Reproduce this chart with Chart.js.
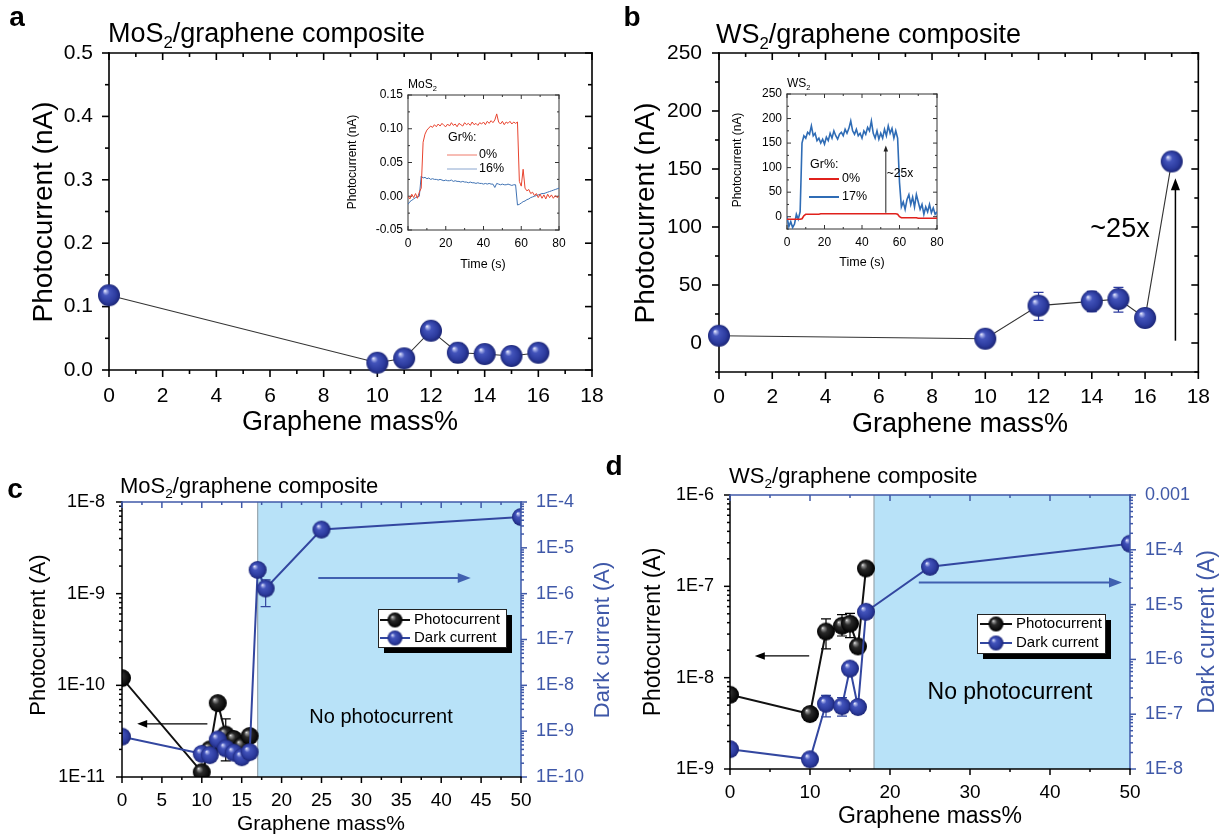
<!DOCTYPE html>
<html>
<head>
<meta charset="utf-8">
<script src="https://cdn.jsdelivr.net/npm/chart.js@4.4.1/dist/chart.umd.min.js"></script>
<style>
  body { margin: 0; background: #fff; }
  #wrap { position: relative; width: 1223px; height: 837px; background: #fff; overflow: hidden; }
  #wrap canvas { position: absolute; left: 0; top: 0; }
</style>
</head>
<body>
<div id="wrap">
  <canvas id="ca" width="1223" height="837"></canvas>
  <canvas id="cb" width="1223" height="837"></canvas>
  <canvas id="cc" width="1223" height="837"></canvas>
  <canvas id="cd" width="1223" height="837"></canvas>
  <canvas id="cia" width="1223" height="837"></canvas>
  <canvas id="cib" width="1223" height="837"></canvas>
</div>
<script>
// ---------- data ----------
// a : MoS2/graphene, photocurrent in nA
const massA  = [0, 10, 11, 12, 13, 14, 15, 16];
const photoA = [0.118, 0.0115, 0.0184, 0.062, 0.0273, 0.0252, 0.0221, 0.0273];
const errLoA = [null, null, null, null, 0.012, null, null, null];
const errHiA = [null, null, null, null, 0.042, null, null, null];

// b : WS2/graphene, photocurrent in nA
const massB  = [0, 10, 12, 14, 15, 16, 17];
const photoB = [6.3, 3.7, 32.2, 35.9, 37.9, 21.6, 156.5];
const errLoB = [null, null, 19.5, 27, 26.7, 19, null];
const errHiB = [null, null, 43.6, 44.5, 48, 24, null];

// c : MoS2/graphene, log scales (A)
const massC      = [0, 10, 11, 12, 13, 14, 15, 16];
const photoC     = [1.2e-10, 1.13e-11, 2.0e-11, 6.4e-11, 2.9e-11, 2.6e-11, 2.2e-11, 2.8e-11];
const errLoC     = [null, null, null, null, 1.5e-11, null, null, null];
const errHiC     = [null, null, null, null, 4.3e-11, null, null, null];
const massDarkC  = [0, 10, 11, 12, 13, 14, 15, 16, 17, 18, 25, 50];
const darkC      = [7.6e-10, 3.2e-10, 3.0e-10, 6.6e-10, 4.2e-10, 3.4e-10, 2.7e-10, 3.5e-10, 3.3e-6, 1.3e-6, 2.5e-5, 4.7e-5];
const errLoDarkC = [null, null, null, null, null, null, null, null, null, 5.2e-7, null, null];
const errHiDarkC = [null, null, null, null, null, null, null, null, null, 2.0e-6, null, null];

// d : WS2/graphene, log scales (A)
const massD      = [0, 10, 12, 14, 15, 16, 17];
const photoD     = [6.5e-9, 4.0e-9, 3.2e-8, 3.7e-8, 3.9e-8, 2.2e-8, 1.57e-7];
const errLoD     = [null, null, 2.07e-8, 2.86e-8, 2.75e-8, null, null];
const errHiD     = [null, null, 4.4e-8, 4.9e-8, 5.07e-8, null, null];
const massDarkD  = [0, 10, 12, 14, 15, 16, 17, 25, 50];
const darkD      = [2.3e-8, 1.5e-8, 1.55e-7, 1.4e-7, 6.8e-7, 1.35e-7, 7.4e-6, 4.9e-5, 1.29e-4];
const errLoDarkD = [null, null, 8.9e-8, 9.2e-8, null, null, null, null, null];
const errHiDarkD = [null, null, 2.2e-7, 2.0e-7, null, null, null, null, null];

// insets : photocurrent vs time (s)
const timeIn = [0,1,2,3,4,5,6,7,8,9,10,11,12,13,14,15,16,17,18,19,20,21,22,23,24,25,26,27,28,29,
  30,31,32,33,34,35,36,37,38,39,40,41,42,43,44,45,46,47,48,49,50,51,52,53,54,55,56,57,58,59,
  60,61,62,63,64,65,66,67,68,69,70,71,72,73,74,75,76,77,78,79,80];
const mos0 = [0.000,-0.004,0.003,-0.002,0.004,-0.003,0.006,0.012,0.080,0.092,
  0.098,0.101,0.104,0.102,0.106,0.103,0.107,0.104,0.108,0.105,
  0.103,0.107,0.104,0.109,0.105,0.107,0.103,0.108,0.106,0.104,
  0.109,0.106,0.108,0.105,0.110,0.106,0.108,0.105,0.109,0.107,
  0.110,0.106,0.111,0.108,0.112,0.109,0.113,0.122,0.110,0.107,
  0.111,0.106,0.110,0.108,0.111,0.107,0.110,0.108,0.110,0.022,
  0.015,0.040,0.012,0.008,0.010,0.004,0.006,0.001,0.004,-0.002,
  0.003,-0.003,0.002,-0.004,0.003,-0.002,0.002,-0.003,0.001,-0.002,0.000];
const mos16 = [-0.012,-0.008,-0.006,-0.004,-0.002,-0.001,0.000,0.030,0.027,0.028,
  0.026,0.027,0.025,0.026,0.025,0.025,0.024,0.025,0.024,0.023,
  0.024,0.023,0.023,0.024,0.022,0.023,0.022,0.022,0.021,0.022,
  0.021,0.021,0.020,0.021,0.020,0.020,0.019,0.020,0.019,0.019,
  0.018,0.019,0.018,0.019,0.018,0.018,0.013,0.019,0.018,0.017,
  0.018,0.017,0.017,0.018,0.017,0.016,0.017,0.017,-0.013,-0.012,
  -0.010,-0.008,-0.007,-0.005,-0.004,-0.002,-0.001,0.000,0.001,0.002,
  0.003,0.004,0.004,0.005,0.006,0.007,0.008,0.009,0.010,0.011,0.012];
const ws0 = [-5,-5,-5,-5,-5,-5,-5,-5,-4,2,
  5,5,5,5,5,5,5,5,6,6,
  6,6,6,6,6,6,6,6,6,6,
  6,6,6,6,6,6,6,6,6,6,
  6,6,6,6,6,6,6,6,6,6,
  6,6,6,6,6,6,6,6,6,5,
  0,-2,-2,-2,-2,-2,-2,-2,-2,-2,
  -3,-3,-3,-3,-3,-3,-3,-3,-3,-3,-3];
const ws17 = [0,-20,-10,-22,-15,5,-5,10,150,165,
  160,172,168,185,165,170,155,160,150,158,
  148,162,155,170,160,175,165,158,168,172,
  165,178,170,180,195,175,168,178,165,170,
  160,175,168,182,175,195,170,160,175,158,
  170,160,178,165,185,170,180,160,175,160,
  70,20,30,15,35,45,25,40,20,45,
  30,15,25,5,20,10,25,8,18,5,10];

// tick positions
const ticksXA = [0, 2, 4, 6, 8, 10, 12, 14, 16, 18];
const minorXA = [1, 3, 5, 7, 9, 11, 13, 15, 17];
const ticksYA = [0, 0.1, 0.2, 0.3, 0.4, 0.5];
const minorYA = [0.05, 0.15, 0.25, 0.35, 0.45];
const ticksYB = [0, 50, 100, 150, 200, 250];
const minorYB = [-25, 25, 75, 125, 175, 225];
const ticksXC = [0, 5, 10, 15, 20, 25, 30, 35, 40, 45, 50];
const minorXC = [2.5, 7.5, 12.5, 17.5, 22.5, 27.5, 32.5, 37.5, 42.5, 47.5];
const decYC  = [1e-11, 1e-10, 1e-9, 1e-8];
const decY2C = [1e-10, 1e-9, 1e-8, 1e-7, 1e-6, 1e-5, 1e-4];
const ticksXD = [0, 10, 20, 30, 40, 50];
const minorXD = [5, 15, 25, 35, 45];
const decYD  = [1e-9, 1e-8, 1e-7, 1e-6];
const decY2D = [1e-8, 1e-7, 1e-6, 1e-5, 1e-4, 1e-3];
const ticksTin = [0, 20, 40, 60, 80];
const minorTin = [10, 30, 50, 70];
const ticksYia = [-0.05, 0, 0.05, 0.1, 0.15];
const minorYia = [-0.025, 0.025, 0.075, 0.125];
const ticksYib = [0, 50, 100, 150, 200, 250];
const minorYib = [-25, 25, 75, 125, 175, 225];

// ---------- look ----------
const W = 1223, H = 837;
const FONT = '"Liberation Sans", Arial, Helvetica, sans-serif';
const AXBLUE = '#3f58a8';
const LINEBLUE = '#3347a0';
const SHADE = '#b8e2f8';
Chart.defaults.font.family = FONT;

// plot areas in page pixels
const areaA  = {l: 109, t: 53,  r: 592, b: 370};
const areaB  = {l: 719, t: 53,  r: 1200, b: 372};
const areaC  = {l: 122, t: 502, r: 521, b: 777};
const areaD  = {l: 730, t: 495, r: 1130, b: 769};
const areaIA = {l: 408, t: 95,  r: 559, b: 230};
const areaIB = {l: 787, t: 94,  r: 937, b: 229};

function sphere(r, kind) {
  const c = document.createElement('canvas');
  const s = Math.ceil(r * 2) + 2;
  c.width = c.height = s;
  const g = c.getContext('2d');
  const cx = s / 2, cy = s / 2;
  const grd = g.createRadialGradient(cx - r * 0.38, cy - r * 0.42, 0, cx, cy, r);
  if (kind === 'black') {
    grd.addColorStop(0, '#ffffff');
    grd.addColorStop(0.12, '#9a9a9a');
    grd.addColorStop(0.4, '#2a2a2a');
    grd.addColorStop(1, '#000000');
  } else {
    grd.addColorStop(0, '#ffffff');
    grd.addColorStop(0.1, '#b4bcef');
    grd.addColorStop(0.32, '#4354bb');
    grd.addColorStop(0.75, '#2c3b9e');
    grd.addColorStop(1, '#1c2676');
  }
  g.fillStyle = grd;
  g.beginPath();
  g.arc(cx, cy, r, 0, Math.PI * 2);
  g.fill();
  return c;
}
const ballBig = sphere(11, 'blue');
const ballBlue = sphere(9, 'blue');
const ballBlack = sphere(9, 'black');
const legBlue = sphere(7.5, 'blue');
const legBlack = sphere(7.5, 'black');

function pts(xs, ys) { return xs.map((x, i) => ({x: x, y: ys[i]})); }

function logMinors(e0, e1) {
  const out = [];
  for (let e = e0; e < e1; e++) for (let m = 2; m <= 9; m++) out.push(m * Math.pow(10, e));
  return out;
}

function sci(v) {
  const e = Math.round(Math.log10(v));
  if (e === -3) return '0.001';
  return '1E' + e;
}

function setTicks(arr) { return s => { s.ticks = arr.map(v => ({value: v})); }; }

// frame with inward/outward ticks drawn by hand
function framePlugin(id, sides, opt) {
  const hook = opt.onTop ? 'afterDatasetsDraw' : 'beforeDatasetsDraw';
  const p = {id: id};
  p[hook] = function(chart) {
    const ctx = chart.ctx, a = chart.chartArea;
    ctx.save();
    ctx.lineWidth = opt.lw;
    sides.forEach(sd => {
      const sc = chart.scales[sd.scale];
      ctx.strokeStyle = sd.color;
      ctx.lineCap = 'square';
      ctx.beginPath();
      if (sd.side === 'left')   { ctx.moveTo(a.left, a.top);  ctx.lineTo(a.left, a.bottom); }
      if (sd.side === 'right')  { ctx.moveTo(a.right, a.top); ctx.lineTo(a.right, a.bottom); }
      if (sd.side === 'top')    { ctx.moveTo(a.left, a.top);  ctx.lineTo(a.right, a.top); }
      if (sd.side === 'bottom') { ctx.moveTo(a.left, a.bottom); ctx.lineTo(a.right, a.bottom); }
      ctx.stroke();
      ctx.lineCap = 'butt';
      const dirSign = {left: 1, right: -1, top: 1, bottom: -1}[sd.side] * (sd.dir === 'out' ? -1 : 1);
      const mark = (v, len) => {
        const q = sc.getPixelForValue(v);
        ctx.beginPath();
        if (sd.side === 'left' || sd.side === 'right') {
          const x0 = sd.side === 'left' ? a.left : a.right;
          ctx.moveTo(x0, q); ctx.lineTo(x0 + dirSign * len, q);
        } else {
          const y0 = sd.side === 'top' ? a.top : a.bottom;
          ctx.moveTo(q, y0); ctx.lineTo(q, y0 + dirSign * len);
        }
        ctx.stroke();
      };
      sd.major.forEach(v => mark(v, opt.major));
      sd.minor.forEach(v => mark(v, opt.minor));
    });
    ctx.restore();
  };
  return p;
}

const errPlugin = {
  id: 'errbars',
  beforeDatasetsDraw(chart) {
    const ctx = chart.ctx;
    chart.data.datasets.forEach((ds, di) => {
      if (!ds.errLo) return;
      const meta = chart.getDatasetMeta(di);
      const ys = chart.scales[meta.yAxisID];
      ctx.save();
      ctx.strokeStyle = ds.errColor || '#000';
      ctx.lineWidth = 1.2;
      ds.errLo.forEach((lo, i) => {
        if (lo == null) return;
        const x = meta.data[i].x;
        const y1 = ys.getPixelForValue(lo), y2 = ys.getPixelForValue(ds.errHi[i]);
        ctx.beginPath();
        ctx.moveTo(x, y1); ctx.lineTo(x, y2);
        ctx.moveTo(x - 5, y1); ctx.lineTo(x + 5, y1);
        ctx.moveTo(x - 5, y2); ctx.lineTo(x + 5, y2);
        ctx.stroke();
      });
      ctx.restore();
    });
  }
};

function shadePlugin(fromX) {
  return {
    id: 'shade',
    beforeDatasetsDraw(chart) {
      const ctx = chart.ctx, a = chart.chartArea;
      const x0 = chart.scales.x.getPixelForValue(fromX);
      ctx.save();
      ctx.fillStyle = SHADE;
      ctx.fillRect(x0, a.top, a.right - x0, a.bottom - a.top);
      ctx.strokeStyle = '#98a6ae';
      ctx.lineWidth = 1.2;
      ctx.beginPath(); ctx.moveTo(x0, a.top); ctx.lineTo(x0, a.bottom); ctx.stroke();
      ctx.restore();
    }
  };
}

// ---------- text helpers ----------
function txt(ctx, s, x, y, size, opt) {
  opt = opt || {};
  ctx.save();
  ctx.font = (opt.bold ? 'bold ' : '') + size + 'px ' + FONT;
  ctx.fillStyle = opt.color || '#000';
  ctx.textAlign = opt.align || 'center';
  ctx.textBaseline = 'middle';
  if (opt.rot) { ctx.translate(x, y); ctx.rotate(-Math.PI / 2); ctx.fillText(s, 0, 0); }
  else ctx.fillText(s, x, y);
  ctx.restore();
}
function subTxt(ctx, pre, sub, post, x, y, size) {
  ctx.save();
  ctx.fillStyle = '#000';
  ctx.textAlign = 'left';
  ctx.textBaseline = 'alphabetic';
  const base = y + size * 0.36;
  ctx.font = size + 'px ' + FONT;
  ctx.fillText(pre, x, base);
  let cx = x + ctx.measureText(pre).width;
  ctx.font = (size * 0.62) + 'px ' + FONT;
  ctx.fillText(sub, cx, base + size * 0.22);
  cx += ctx.measureText(sub).width;
  ctx.font = size + 'px ' + FONT;
  ctx.fillText(post, cx, base);
  ctx.restore();
}
function arrow(ctx, x1, y1, x2, y2, color, w, head) {
  const ang = Math.atan2(y2 - y1, x2 - x1);
  const c = Math.cos(ang), s = Math.sin(ang);
  ctx.save();
  ctx.strokeStyle = color; ctx.fillStyle = color; ctx.lineWidth = w;
  ctx.beginPath();
  ctx.moveTo(x1, y1); ctx.lineTo(x2 - head * 0.8 * c, y2 - head * 0.8 * s);
  ctx.stroke();
  ctx.beginPath();
  ctx.moveTo(x2, y2);
  ctx.lineTo(x2 - head * c + head * 0.38 * s, y2 - head * s - head * 0.38 * c);
  ctx.lineTo(x2 - head * c - head * 0.38 * s, y2 - head * s + head * 0.38 * c);
  ctx.closePath(); ctx.fill();
  ctx.restore();
}
function arrowData(chart, yId, from, to, color, w, head) {
  const xs = chart.scales.x, ys = chart.scales[yId];
  arrow(chart.ctx, xs.getPixelForValue(from[0]), ys.getPixelForValue(from[1]),
        xs.getPixelForValue(to[0]), ys.getPixelForValue(to[1]), color, w, head);
}
function legendBox(ctx, box, rows) {
  const w = box[2] - box[0], h = box[3] - box[1];
  ctx.save();
  ctx.fillStyle = '#000';
  ctx.fillRect(box[0] + 6, box[1] + 6, w, h);
  ctx.fillStyle = '#fff';
  ctx.fillRect(box[0], box[1], w, h);
  ctx.strokeStyle = '#222'; ctx.lineWidth = 1;
  ctx.strokeRect(box[0] + 0.5, box[1] + 0.5, w, h);
  rows.forEach(r => {
    ctx.strokeStyle = r.color; ctx.lineWidth = 2;
    ctx.beginPath(); ctx.moveTo(r.x1, r.y); ctx.lineTo(r.x2, r.y); ctx.stroke();
    ctx.drawImage(r.ball, r.bx - r.ball.width / 2, r.y - r.ball.height / 2);
    txt(ctx, r.label, r.tx, r.y, 15, {align: 'left'});
  });
  ctx.restore();
}

// ---------- shared option pieces ----------
function baseOptions(area, hasRight) {
  return {
    responsive: false, animation: false, devicePixelRatio: 1, events: [],
    layout: {padding: {left: 0, top: area.t, right: hasRight ? 0 : W - area.r, bottom: 0}},
    plugins: {legend: {display: false}, tooltip: {enabled: false}, title: {display: false}}
  };
}
function axisX(area, min, max, ticks, size, pad, type) {
  return {
    type: type || 'linear', min: min, max: max, position: 'bottom',
    grid: {display: false, drawTicks: false}, border: {display: false},
    afterBuildTicks: setTicks(ticks),
    afterFit: s => { s.height = H - area.b; },
    ticks: {font: {size: size}, color: '#000', padding: pad, autoSkip: false, maxRotation: 0}
  };
}
function axisY(area, min, max, ticks, size, pad, fmt, type, right, color) {
  return {
    type: type || 'linear', min: min, max: max, position: right ? 'right' : 'left',
    grid: {display: false, drawTicks: false}, border: {display: false},
    afterBuildTicks: setTicks(ticks),
    afterFit: s => { s.width = right ? W - area.r : area.l; },
    ticks: {font: {size: size}, color: color || '#000', padding: pad, autoSkip: false, callback: fmt}
  };
}

// ---------- panel a ----------
new Chart(document.getElementById('ca'), {
  type: 'line',
  data: {datasets: [{
    data: pts(massA, photoA), errLo: errLoA, errHi: errHiA, errColor: '#2c3b9e',
    borderColor: '#333', borderWidth: 1.1, pointStyle: ballBig, pointRadius: 11, tension: 0, clip: false
  }]},
  options: Object.assign(baseOptions(areaA, false), {
    scales: {
      x: axisX(areaA, 0, 18, ticksXA, 21, 14),
      y: axisY(areaA, 0, 0.5, ticksYA, 21, 16, v => v.toFixed(1))
    }
  }),
  plugins: [
    framePlugin('frameA', [
      {side: 'left', scale: 'y', color: '#000', dir: 'out', major: ticksYA, minor: minorYA},
      {side: 'right', scale: 'y', color: '#000', dir: 'in', major: ticksYA, minor: minorYA},
      {side: 'bottom', scale: 'x', color: '#000', dir: 'out', major: ticksXA, minor: minorXA},
      {side: 'top', scale: 'x', color: '#000', dir: 'in', major: ticksXA, minor: minorXA}
    ], {lw: 1.6, major: 7, minor: 4}),
    errPlugin,
    {id: 'decorA', afterDraw(chart) {
      const ctx = chart.ctx;
      txt(ctx, 'a', 17, 18, 28, {bold: true});
      subTxt(ctx, 'MoS', '2', '/graphene composite', 108, 32, 27);
      txt(ctx, 'Graphene mass%', 350, 423, 27);
      txt(ctx, 'Photocurrent (nA)', 44, 212, 28, {rot: true});
    }}
  ]
});

// ---------- panel b ----------
new Chart(document.getElementById('cb'), {
  type: 'line',
  data: {datasets: [{
    data: pts(massB, photoB), errLo: errLoB, errHi: errHiB, errColor: '#2c3b9e',
    borderColor: '#333', borderWidth: 1.1, pointStyle: ballBig, pointRadius: 11, tension: 0, clip: false
  }]},
  options: Object.assign(baseOptions(areaB, false), {
    scales: {
      x: axisX(areaB, 0, 18, ticksXA, 21, 13),
      y: axisY(areaB, -25, 250, ticksYB, 21, 17, v => String(v))
    }
  }),
  plugins: [
    framePlugin('frameB', [
      {side: 'left', scale: 'y', color: '#000', dir: 'out', major: ticksYB, minor: minorYB},
      {side: 'right', scale: 'y', color: '#000', dir: 'in', major: ticksYB, minor: minorYB},
      {side: 'bottom', scale: 'x', color: '#000', dir: 'out', major: ticksXA, minor: minorXA},
      {side: 'top', scale: 'x', color: '#000', dir: 'in', major: ticksXA, minor: minorXA}
    ], {lw: 1.6, major: 7, minor: 4}),
    errPlugin,
    {id: 'decorB', afterDraw(chart) {
      const ctx = chart.ctx;
      txt(ctx, 'b', 632, 18, 28, {bold: true});
      subTxt(ctx, 'WS', '2', '/graphene composite', 716, 33, 27);
      txt(ctx, 'Graphene mass%', 960, 425, 27);
      txt(ctx, 'Photocurrent (nA)', 646, 213, 28, {rot: true});
      arrowData(chart, 'y', [17.14, 2], [17.14, 142], '#000', 1.5, 12);
      txt(ctx, '~25x', 1120, 230, 27);
    }}
  ]
});

// ---------- panel c ----------
new Chart(document.getElementById('cc'), {
  type: 'line',
  data: {datasets: [
    {data: pts(massDarkC, darkC), yAxisID: 'y2', errLo: errLoDarkC, errHi: errHiDarkC, errColor: LINEBLUE,
     borderColor: LINEBLUE, borderWidth: 2, pointStyle: ballBlue, pointRadius: 9, tension: 0},
    {data: pts(massC, photoC), yAxisID: 'y', errLo: errLoC, errHi: errHiC, errColor: '#000',
     borderColor: '#111', borderWidth: 2, pointStyle: ballBlack, pointRadius: 9, tension: 0}
  ]},
  options: Object.assign(baseOptions(areaC, true), {
    scales: {
      x: axisX(areaC, 0, 50, ticksXC, 19, 12),
      y: axisY(areaC, 1e-11, 1e-8, decYC, 18, 17, sci, 'logarithmic'),
      y2: axisY(areaC, 1e-10, 1e-4, decY2C, 18, 15, sci, 'logarithmic', true, AXBLUE)
    }
  }),
  plugins: [
    shadePlugin(17),
    errPlugin,
    framePlugin('frameC', [
      {side: 'left', scale: 'y', color: '#000', dir: 'out', major: decYC, minor: logMinors(-11, -8)},
      {side: 'right', scale: 'y2', color: AXBLUE, dir: 'out', major: decY2C, minor: logMinors(-10, -4)},
      {side: 'bottom', scale: 'x', color: '#000', dir: 'out', major: ticksXC, minor: minorXC},
      {side: 'top', scale: 'x', color: AXBLUE, dir: 'in', major: ticksXC, minor: minorXC}
    ], {lw: 1.5, major: 6, minor: 3, onTop: true}),
    {id: 'decorC', afterDraw(chart) {
      const ctx = chart.ctx;
      txt(ctx, 'c', 15, 490, 28, {bold: true});
      subTxt(ctx, 'MoS', '2', '/graphene composite', 120, 485, 22);
      txt(ctx, 'Graphene mass%', 321, 824, 21);
      txt(ctx, 'Photocurrent (A)', 39, 635, 22, {rot: true});
      txt(ctx, 'Dark current (A)', 603, 640, 22, {rot: true, color: AXBLUE});
      txt(ctx, 'No photocurrent', 381, 717, 20);
      arrowData(chart, 'y', [10.7, 3.8e-11], [1.9, 3.8e-11], '#000', 1.2, 10);
      arrowData(chart, 'y', [24.6, 1.48e-9], [43.7, 1.48e-9], '#4060b0', 2, 13);
      legendBox(ctx, [378, 609, 506, 647], [
        {color: '#111', ball: legBlack, x1: 380, x2: 410, bx: 395, y: 620, tx: 414, label: 'Photocurrent'},
        {color: LINEBLUE, ball: legBlue, x1: 380, x2: 410, bx: 395, y: 638, tx: 414, label: 'Dark current'}
      ]);
    }}
  ]
});

// ---------- panel d ----------
new Chart(document.getElementById('cd'), {
  type: 'line',
  data: {datasets: [
    {data: pts(massDarkD, darkD), yAxisID: 'y2', errLo: errLoDarkD, errHi: errHiDarkD, errColor: LINEBLUE,
     borderColor: LINEBLUE, borderWidth: 2, pointStyle: ballBlue, pointRadius: 9, tension: 0},
    {data: pts(massD, photoD), yAxisID: 'y', errLo: errLoD, errHi: errHiD, errColor: '#000',
     borderColor: '#111', borderWidth: 2, pointStyle: ballBlack, pointRadius: 9, tension: 0}
  ]},
  options: Object.assign(baseOptions(areaD, true), {
    scales: {
      x: axisX(areaD, 0, 50, ticksXD, 19, 12),
      y: axisY(areaD, 1e-9, 1e-6, decYD, 18, 16, sci, 'logarithmic'),
      y2: axisY(areaD, 1e-8, 1e-3, decY2D, 18, 15, sci, 'logarithmic', true, AXBLUE)
    }
  }),
  plugins: [
    shadePlugin(18),
    errPlugin,
    framePlugin('frameD', [
      {side: 'left', scale: 'y', color: '#000', dir: 'out', major: decYD, minor: logMinors(-9, -6)},
      {side: 'right', scale: 'y2', color: AXBLUE, dir: 'out', major: decY2D, minor: logMinors(-8, -3)},
      {side: 'bottom', scale: 'x', color: '#000', dir: 'out', major: ticksXD, minor: minorXD},
      {side: 'top', scale: 'x', color: AXBLUE, dir: 'in', major: ticksXD, minor: minorXD}
    ], {lw: 1.5, major: 6, minor: 3, onTop: true}),
    {id: 'decorD', afterDraw(chart) {
      const ctx = chart.ctx;
      txt(ctx, 'd', 614, 467, 28, {bold: true});
      subTxt(ctx, 'WS', '2', '/graphene composite', 729, 475, 22);
      txt(ctx, 'Graphene mass%', 930, 817, 23);
      txt(ctx, 'Photocurrent (A)', 654, 632, 23, {rot: true});
      txt(ctx, 'Dark current (A)', 1208, 632, 23, {rot: true, color: AXBLUE});
      txt(ctx, 'No photocurrent', 1010, 693, 23);
      arrowData(chart, 'y', [9.9, 1.73e-8], [3.1, 1.73e-8], '#000', 1.2, 10);
      arrowData(chart, 'y', [23.6, 1.1e-7], [49, 1.1e-7], '#4060b0', 2, 13);
      legendBox(ctx, [977, 614, 1105, 653], [
        {color: '#111', ball: legBlack, x1: 980, x2: 1012, bx: 996, y: 624, tx: 1016, label: 'Photocurrent'},
        {color: LINEBLUE, ball: legBlue, x1: 980, x2: 1012, bx: 996, y: 643, tx: 1016, label: 'Dark current'}
      ]);
    }}
  ]
});

// ---------- inset a (MoS2 transients) ----------
new Chart(document.getElementById('cia'), {
  type: 'line',
  data: {datasets: [
    {data: pts(timeIn, mos0), borderColor: '#e8432e', borderWidth: 1, pointRadius: 0, tension: 0},
    {data: pts(timeIn, mos16), borderColor: '#3f72b3', borderWidth: 1, pointRadius: 0, tension: 0}
  ]},
  options: Object.assign(baseOptions(areaIA, false), {
    scales: {
      x: axisX(areaIA, 0, 80, ticksTin, 12, 6),
      y: axisY(areaIA, -0.05, 0.15, ticksYia, 12, 5, v => v.toFixed(2))
    }
  }),
  plugins: [
    framePlugin('frameIA', [
      {side: 'left', scale: 'y', color: '#333', dir: 'in', major: ticksYia, minor: minorYia},
      {side: 'right', scale: 'y', color: '#333', dir: 'in', major: ticksYia, minor: minorYia},
      {side: 'bottom', scale: 'x', color: '#333', dir: 'in', major: ticksTin, minor: minorTin},
      {side: 'top', scale: 'x', color: '#333', dir: 'in', major: ticksTin, minor: minorTin}
    ], {lw: 1, major: 4, minor: 2}),
    {id: 'decorIA', afterDraw(chart) {
      const ctx = chart.ctx;
      subTxt(ctx, 'MoS', '2', '', 408, 84, 12);
      txt(ctx, 'Photocurrent (nA)', 353, 162, 12, {rot: true});
      txt(ctx, 'Time (s)', 483, 265, 12.5);
      txt(ctx, 'Gr%:', 448, 138, 12.5, {align: 'left'});
      ctx.save(); ctx.lineWidth = 1;
      ctx.strokeStyle = '#ef7a6a'; ctx.beginPath(); ctx.moveTo(447, 155); ctx.lineTo(477, 155); ctx.stroke();
      ctx.strokeStyle = '#8aa6cf'; ctx.beginPath(); ctx.moveTo(447, 169); ctx.lineTo(477, 169); ctx.stroke();
      ctx.restore();
      txt(ctx, '0%', 479, 155, 12.5, {align: 'left'});
      txt(ctx, '16%', 479, 169, 12.5, {align: 'left'});
    }}
  ]
});

// ---------- inset b (WS2 transients) ----------
new Chart(document.getElementById('cib'), {
  type: 'line',
  data: {datasets: [
    {data: pts(timeIn, ws0), borderColor: '#e0211c', borderWidth: 1.6, pointRadius: 0, tension: 0},
    {data: pts(timeIn, ws17), borderColor: '#2f6cb5', borderWidth: 1.6, pointRadius: 0, tension: 0}
  ]},
  options: Object.assign(baseOptions(areaIB, false), {
    scales: {
      x: axisX(areaIB, 0, 80, ticksTin, 12, 6),
      y: axisY(areaIB, -25, 250, ticksYib, 12, 5, v => String(v))
    }
  }),
  plugins: [
    framePlugin('frameIB', [
      {side: 'left', scale: 'y', color: '#333', dir: 'in', major: ticksYib, minor: minorYib},
      {side: 'right', scale: 'y', color: '#333', dir: 'in', major: ticksYib, minor: minorYib},
      {side: 'bottom', scale: 'x', color: '#333', dir: 'in', major: ticksTin, minor: minorTin},
      {side: 'top', scale: 'x', color: '#333', dir: 'in', major: ticksTin, minor: minorTin}
    ], {lw: 1, major: 4, minor: 2}),
    {id: 'decorIB', afterDraw(chart) {
      const ctx = chart.ctx;
      subTxt(ctx, 'WS', '2', '', 787, 83, 12);
      txt(ctx, 'Photocurrent (nA)', 738, 160, 12, {rot: true});
      txt(ctx, 'Time (s)', 862, 263, 12.5);
      txt(ctx, 'Gr%:', 810, 165, 12.5, {align: 'left'});
      ctx.save(); ctx.lineWidth = 2;
      ctx.strokeStyle = '#e0211c'; ctx.beginPath(); ctx.moveTo(809, 179); ctx.lineTo(839, 179); ctx.stroke();
      ctx.strokeStyle = '#2f6cb5'; ctx.beginPath(); ctx.moveTo(809, 197); ctx.lineTo(839, 197); ctx.stroke();
      ctx.restore();
      txt(ctx, '0%', 842, 179, 12.5, {align: 'left'});
      txt(ctx, '17%', 842, 197, 12.5, {align: 'left'});
      arrowData(chart, 'y', [52.7, 8], [52.7, 145], '#222', 1, 6);
      txt(ctx, '~25x', 900, 174, 12);
    }}
  ]
});
</script>
</body>
</html>
